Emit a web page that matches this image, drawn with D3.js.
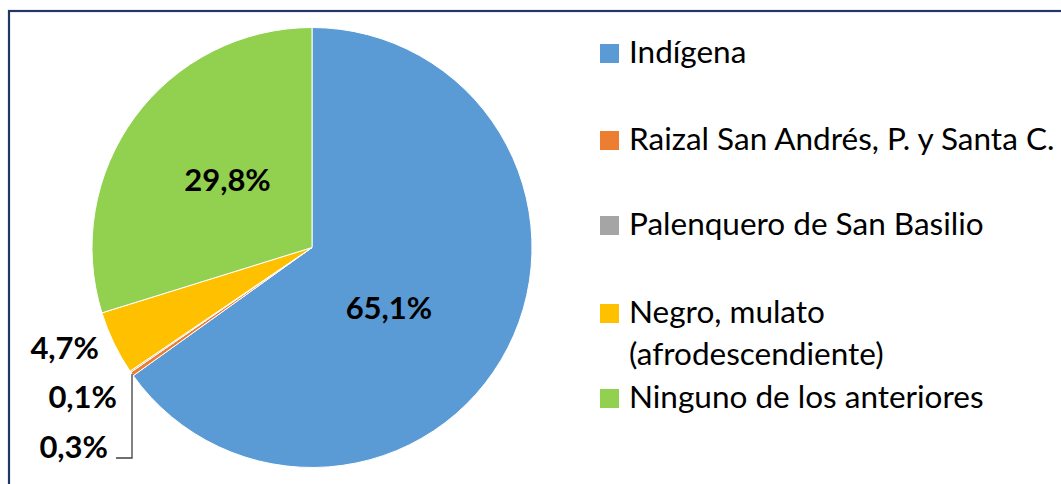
<!DOCTYPE html>
<html>
<head>
<meta charset="utf-8">
<script src="https://cdn.jsdelivr.net/npm/d3@7"></script>
<style>
  body { margin: 0; background: #fff; }
  svg { display: block; font-family: Lato, "Open Sans", sans-serif; }
</style>
</head>
<body>
<div id="vis"></div>
<script>
// data
var categories = ['Indígena', 'Raizal San Andrés, P. y Santa C.', 'Palenquero de San Basilio', 'Negro, mulato (afrodescendiente)', 'Ninguno de los anteriores'];
var legendLines = [['Indígena'], ['Raizal San Andrés, P. y Santa C.'], ['Palenquero de San Basilio'], ['Negro, mulato', '(afrodescendiente)'], ['Ninguno de los anteriores']];
var values = [65.1, 0.3, 0.1, 4.7, 29.8];
var labels = ['65,1%', '0,3%', '0,1%', '4,7%', '29,8%'];
var colors = ['#5B9BD5', '#ED7D31', '#A5A5A5', '#FFC000', '#92D050'];

var width = 1061, height = 484;
var cx = 312, cy = 247.5, radius = 220;

var svg = d3.select('#vis').append('svg')
    .attr('width', width)
    .attr('height', height);

// frame (only top and left visible in the crop)
svg.append('rect')
   .attr('x', 9).attr('y', 11)
   .attr('width', width + 20).attr('height', height + 20)
   .attr('fill', 'none')
   .attr('stroke', '#203864')
   .attr('stroke-width', 2.2);

var pie = d3.pie().sort(null).value(d => d);
var arcs = pie(values);
var arc = d3.arc().innerRadius(0).outerRadius(radius);
var labelArc = d3.arc().innerRadius(0).outerRadius(200);
var edgeArc = d3.arc().innerRadius(radius).outerRadius(radius);
var outArc = d3.arc().innerRadius(radius + 32).outerRadius(radius + 32);

var g = svg.append('g').attr('transform', `translate(${cx},${cy})`);

g.selectAll('path.slice')
 .data(arcs)
 .enter().append('path')
 .attr('class', 'slice')
 .attr('d', arc)
 .attr('fill', (d, i) => colors[i])
 .attr('stroke', '#fff')
 .attr('stroke-width', 1);

// labels: big slices inside, small ones stacked outside on the left
var labelFont = 31;
arcs.forEach(function(d, i) {
    var t = g.append('text')
        .attr('font-size', labelFont)
        .attr('font-weight', 'bold')
        .attr('fill', '#000')
        .attr('dominant-baseline', 'central')
        .text(labels[i]);
    if (values[i] > 10) {
        var c = labelArc.centroid(d);
        if (i === 0) { c = [c[0] - 12, c[1] + 14]; }
        else { c = [c[0] - 4, c[1] - 9]; }
        t.attr('text-anchor', 'middle').attr('x', c[0]).attr('y', c[1]);
    } else if (i === 3) {
        var o = outArc.centroid(d);
        t.attr('text-anchor', 'end').attr('x', o[0] + 14).attr('y', o[1] - 10);
    } else if (i === 2) {
        var e2 = edgeArc.centroid(arcs[1]);
        t.attr('text-anchor', 'end').attr('x', e2[0] - 15).attr('y', e2[1] + 22);
    } else if (i === 1) {
        var e = edgeArc.centroid(d);
        var yEnd = e[1] + 84;
        t.attr('text-anchor', 'end').attr('x', e[0] - 24).attr('y', yEnd - 12);
        g.append('polyline')
         .attr('points', [[e[0], e[1]], [e[0], yEnd], [e[0] - 16, yEnd]].map(p => p.join(',')).join(' '))
         .attr('fill', 'none')
         .attr('stroke', '#404040')
         .attr('stroke-width', 1.3);
    }
});

// legend
var legendRows = [63, 150, 235, 323, 408];
var legend = svg.append('g');
categories.forEach(function(c, i) {
    var row = legend.append('g').attr('transform', `translate(600,${legendRows[i]})`);
    row.append('rect')
       .attr('x', 0).attr('y', -19)
       .attr('width', 19).attr('height', 19)
       .attr('fill', colors[i]);
    legendLines[i].forEach(function(line, j) {
        row.append('text')
           .attr('x', 29)
           .attr('y', j * 42)
           .attr('font-size', 31.5)
           .attr('fill', '#000')
           .text(line);
    });
});
</script>
</body>
</html>
